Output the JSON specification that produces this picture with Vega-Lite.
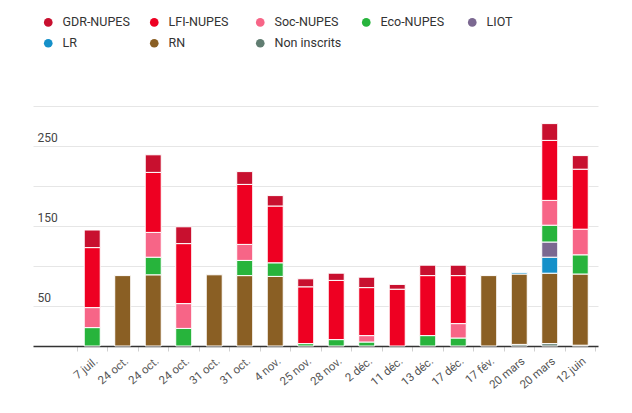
{
  "$schema": "https://vega.github.io/schema/vega-lite/v6.json",
  "autosize": {"type": "none"},
  "padding": {"left": 33, "top": 106, "right": 34, "bottom": 67},
  "width": 565,
  "height": 240,
  "config": {
    "view": {"stroke": null},
    "font": "Roboto",
    "axis": {"labelFont": "Roboto", "labelColor": "#555555"},
    "legend": {"labelFont": "Roboto"}
  },
  "data": {
    "values": [
      {"motion": "7 juil.|1", "groupe": "Eco-NUPES", "voix": 23},
      {"motion": "7 juil.|1", "groupe": "Soc-NUPES", "voix": 25},
      {"motion": "7 juil.|1", "groupe": "LFI-NUPES", "voix": 75},
      {"motion": "7 juil.|1", "groupe": "GDR-NUPES", "voix": 22},
      {"motion": "24 oct.|2", "groupe": "RN", "voix": 88},
      {"motion": "24 oct.|3", "groupe": "RN", "voix": 89},
      {"motion": "24 oct.|3", "groupe": "Eco-NUPES", "voix": 22},
      {"motion": "24 oct.|3", "groupe": "Soc-NUPES", "voix": 31},
      {"motion": "24 oct.|3", "groupe": "LFI-NUPES", "voix": 75},
      {"motion": "24 oct.|3", "groupe": "GDR-NUPES", "voix": 22},
      {"motion": "24 oct.|4", "groupe": "Eco-NUPES", "voix": 22},
      {"motion": "24 oct.|4", "groupe": "Soc-NUPES", "voix": 31},
      {"motion": "24 oct.|4", "groupe": "LFI-NUPES", "voix": 75},
      {"motion": "24 oct.|4", "groupe": "GDR-NUPES", "voix": 21},
      {"motion": "31 oct.|5", "groupe": "RN", "voix": 89},
      {"motion": "31 oct.|6", "groupe": "RN", "voix": 88},
      {"motion": "31 oct.|6", "groupe": "Eco-NUPES", "voix": 19},
      {"motion": "31 oct.|6", "groupe": "Soc-NUPES", "voix": 20},
      {"motion": "31 oct.|6", "groupe": "LFI-NUPES", "voix": 75},
      {"motion": "31 oct.|6", "groupe": "GDR-NUPES", "voix": 16},
      {"motion": "4 nov.|7", "groupe": "RN", "voix": 87},
      {"motion": "4 nov.|7", "groupe": "Eco-NUPES", "voix": 17},
      {"motion": "4 nov.|7", "groupe": "LFI-NUPES", "voix": 71},
      {"motion": "4 nov.|7", "groupe": "GDR-NUPES", "voix": 13},
      {"motion": "25 nov.|8", "groupe": "Eco-NUPES", "voix": 3},
      {"motion": "25 nov.|8", "groupe": "LFI-NUPES", "voix": 71},
      {"motion": "25 nov.|8", "groupe": "GDR-NUPES", "voix": 10},
      {"motion": "28 nov.|9", "groupe": "Eco-NUPES", "voix": 8},
      {"motion": "28 nov.|9", "groupe": "LFI-NUPES", "voix": 74},
      {"motion": "28 nov.|9", "groupe": "GDR-NUPES", "voix": 9},
      {"motion": "2 déc.|10", "groupe": "Eco-NUPES", "voix": 5},
      {"motion": "2 déc.|10", "groupe": "Soc-NUPES", "voix": 8},
      {"motion": "2 déc.|10", "groupe": "LFI-NUPES", "voix": 60},
      {"motion": "2 déc.|10", "groupe": "GDR-NUPES", "voix": 13},
      {"motion": "11 déc.|11", "groupe": "LFI-NUPES", "voix": 71},
      {"motion": "11 déc.|11", "groupe": "GDR-NUPES", "voix": 6},
      {"motion": "13 déc.|12", "groupe": "Eco-NUPES", "voix": 13},
      {"motion": "13 déc.|12", "groupe": "LFI-NUPES", "voix": 75},
      {"motion": "13 déc.|12", "groupe": "GDR-NUPES", "voix": 13},
      {"motion": "17 déc.|13", "groupe": "Eco-NUPES", "voix": 10},
      {"motion": "17 déc.|13", "groupe": "Soc-NUPES", "voix": 18},
      {"motion": "17 déc.|13", "groupe": "LFI-NUPES", "voix": 60},
      {"motion": "17 déc.|13", "groupe": "GDR-NUPES", "voix": 13},
      {"motion": "17 fév.|14", "groupe": "RN", "voix": 88},
      {"motion": "20 mars|15", "groupe": "Non inscrits", "voix": 2},
      {"motion": "20 mars|15", "groupe": "RN", "voix": 88},
      {"motion": "20 mars|15", "groupe": "LR", "voix": 2},
      {"motion": "20 mars|16", "groupe": "Non inscrits", "voix": 3},
      {"motion": "20 mars|16", "groupe": "RN", "voix": 88},
      {"motion": "20 mars|16", "groupe": "LR", "voix": 20},
      {"motion": "20 mars|16", "groupe": "LIOT", "voix": 19},
      {"motion": "20 mars|16", "groupe": "Eco-NUPES", "voix": 21},
      {"motion": "20 mars|16", "groupe": "Soc-NUPES", "voix": 31},
      {"motion": "20 mars|16", "groupe": "LFI-NUPES", "voix": 75},
      {"motion": "20 mars|16", "groupe": "GDR-NUPES", "voix": 21},
      {"motion": "12 juin|17", "groupe": "Non inscrits", "voix": 1},
      {"motion": "12 juin|17", "groupe": "RN", "voix": 89},
      {"motion": "12 juin|17", "groupe": "Eco-NUPES", "voix": 24},
      {"motion": "12 juin|17", "groupe": "Soc-NUPES", "voix": 32},
      {"motion": "12 juin|17", "groupe": "LFI-NUPES", "voix": 75},
      {"motion": "12 juin|17", "groupe": "GDR-NUPES", "voix": 17}
    ]
  },
  "transform": [
    {"calculate": "indexof(['Non inscrits','RN','LR','LIOT','Eco-NUPES','Soc-NUPES','LFI-NUPES','GDR-NUPES'], datum.groupe)", "as": "rang"}
  ],
  "mark": {"type": "bar", "width": 16, "stroke": "white", "strokeWidth": 1},
  "encoding": {
    "x": {
      "field": "motion",
      "type": "ordinal",
      "sort": null,
      "scale": {"paddingInner": 0, "paddingOuter": 0.762, "align": 0.946},
      "axis": {
        "title": null,
        "domain": true,
        "domainColor": "#333333",
        "domainWidth": 1.5,
        "tickBand": "extent",
        "tickColor": "#d0d0d0",
        "tickSize": 5,
        "labelAngle": -40,
        "labelAlign": "right",
        "labelBaseline": "top",
        "labelPadding": 4,
        "labelFontSize": 11.5,
        "labelExpr": "datum.value ? split(datum.value, '|')[0] : ''"
      }
    },
    "y": {
      "field": "voix",
      "type": "quantitative",
      "stack": "zero",
      "scale": {"domain": [0, 300], "nice": false},
      "axis": {
        "title": null,
        "values": [50, 100, 150, 200, 250, 300],
        "domain": false,
        "ticks": false,
        "grid": true,
        "gridColor": "#e6e6e6",
        "gridWidth": 1,
        "labelOverlap": false,
        "labelAlign": "left",
        "labelBaseline": "bottom",
        "labelPadding": -4,
        "labelOffset": -2,
        "labelFontSize": 12,
        "labelColor": "#444444",
        "labelExpr": "datum.value % 100 == 50 ? datum.label : ''"
      }
    },
    "color": {
      "field": "groupe",
      "type": "nominal",
      "scale": {
        "domain": ["GDR-NUPES", "LFI-NUPES", "Soc-NUPES", "Eco-NUPES", "LIOT", "LR", "RN", "Non inscrits"],
        "range": ["#c8102f", "#ee0022", "#f76587", "#27b43c", "#7b6891", "#1590c9", "#8a5f24", "#607d71"]
      },
      "legend": {
        "title": null,
        "orient": "none",
        "direction": "horizontal",
        "legendX": 9,
        "legendY": -90,
        "columns": 5,
        "gridAlign": "all",
        "symbolType": "circle",
        "symbolSize": 75,
        "symbolStrokeWidth": 0,
        "labelFontSize": 12.5,
        "labelColor": "#333333",
        "labelOffset": 8,
        "columnPadding": 18,
        "rowPadding": 8
      }
    },
    "order": {"field": "rang", "type": "quantitative", "sort": "ascending"}
  }
}
